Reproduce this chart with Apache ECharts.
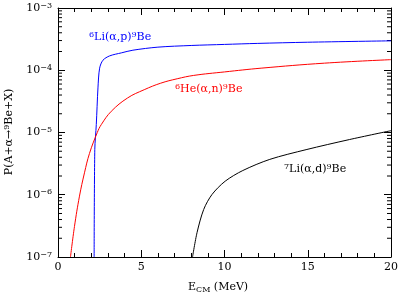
<!DOCTYPE html>
<html><head><meta charset="utf-8">
<script src="https://cdn.jsdelivr.net/npm/echarts@6/dist/echarts.min.js"></script>
<style>html,body{margin:0;padding:0;background:#fff}#c{width:401px;height:300px}</style>
</head><body><div id="c"></div>
<script>
// Data
var liP_E   = [2.17, 2.21, 2.3, 2.4, 2.5, 2.7, 3.1, 3.8, 4.5, 6, 8, 10, 12, 15, 20];
var liP_P   = [1e-7, 5.3e-6, 1.34e-5, 5.2e-5, 1.08e-4, 1.45e-4, 1.7e-4, 1.9e-4, 2.1e-4, 2.35e-4, 2.5e-4, 2.6e-4, 2.7e-4, 2.82e-4, 2.97e-4];
var heN_E   = [0.75, 0.99, 1.29, 1.59, 1.89, 2.36, 2.6, 3.2, 4.18, 5.18, 6.17, 7.16, 8.15, 10, 12.2, 16, 20];
var heN_P   = [1e-7, 3.1e-7, 9.5e-7, 2.25e-6, 4.6e-6, 1e-5, 1.34e-5, 2.19e-5, 3.59e-5, 4.87e-5, 6.2e-5, 7.3e-5, 8.26e-5, 9.4e-5, 1.08e-4, 1.3e-4, 1.48e-4];
var liD_E   = [8.08, 8.35, 8.75, 9.25, 10.04, 11.1, 12.72, 14.9, 17.5, 20];
var liD_P   = [1e-7, 2.46e-7, 5.8e-7, 1.01e-6, 1.65e-6, 2.45e-6, 3.7e-6, 5.3e-6, 7.7e-6, 1.07e-5];
var seriesNames = ['{s|6}Li(α,p){s|9}Be', '{s|6}He(α,n){s|9}Be', '{s|7}Li(α,d){s|9}Be'];
var xTicks = [0, 5, 10, 15, 20];
var yDecades = [-7, -6, -5, -4, -3];
var minorMult = [2, 3, 4, 5, 6, 7, 8, 9];

function zip(a, b) { return a.map(function (v, i) { return [v, b[i]]; }); }
var minorVals = [];
yDecades.slice(0, -1).forEach(function (d) {
  minorMult.forEach(function (m) { minorVals.push([0, m * Math.pow(10, d)]); });
});

var FONT = 'DejaVu Serif';
var rich = {
  s: { fontSize: 8, fontFamily: FONT, verticalAlign: 'top', padding: [0, 0, 5, 0] },
  b: { fontSize: 11, fontFamily: FONT }
};

var chart = echarts.init(document.getElementById('c'));
var axisCommon = {
  axisLine: { onZero: false, lineStyle: { color: '#000', width: 1 } },
  splitLine: { show: false }
};
chart.setOption({
  animation: false,
  grid: { left: 58, right: 7, top: 8, bottom: 43 },
  xAxis: [
    Object.assign({}, axisCommon, {
      type: 'value', min: 0, max: 20, interval: 5, position: 'bottom',
      axisTick: { inside: true, length: 7, lineStyle: { color: '#000' } },
      minorTick: { show: true, splitNumber: 5, length: 4, lineStyle: { color: '#000' } },
      axisLabel: { color: '#000', fontFamily: FONT, fontSize: 11, margin: 5 }
    }),
    Object.assign({}, axisCommon, {
      type: 'value', min: 0, max: 20, interval: 5, position: 'top',
      axisTick: { inside: true, length: 7, lineStyle: { color: '#000' } },
      minorTick: { show: true, splitNumber: 5, length: 4, lineStyle: { color: '#000' } },
      axisLabel: { show: false }
    })
  ],
  yAxis: [
    Object.assign({}, axisCommon, {
      type: 'log', logBase: 10, min: 1e-7, max: 1e-3, interval: 1, position: 'left',
      axisTick: { inside: true, length: 7, lineStyle: { color: '#000' } },
      axisLabel: {
        color: '#000', fontFamily: FONT, fontSize: 11, margin: 6,
        formatter: function (v) {
          var e = Math.round(Math.log10(v));
          return '{b|10}{s|' + (e < 0 ? '\u2212' + (-e) : e) + '}';
        },
        rich: rich
      }
    }),
    Object.assign({}, axisCommon, {
      type: 'log', logBase: 10, min: 1e-7, max: 1e-3, interval: 1, position: 'right',
      axisTick: { inside: true, length: 7, lineStyle: { color: '#000' } },
      axisLabel: { show: false }
    })
  ],
  series: [
    { type: 'line', name: 'liP', data: zip(liP_E, liP_P), showSymbol: false, smooth: 0.3,
      lineStyle: { color: '#0000ff', width: 1 }, itemStyle: { color: '#0000ff' } },
    { type: 'line', name: 'heN', data: zip(heN_E, heN_P), showSymbol: false, smooth: 0.4,
      lineStyle: { color: '#ff0000', width: 1 }, itemStyle: { color: '#ff0000' } },
    { type: 'line', name: 'liD', data: zip(liD_E, liD_P), showSymbol: false, smooth: 0.3,
      lineStyle: { color: '#000000', width: 1 }, itemStyle: { color: '#000' } },
    { type: 'custom', silent: true, clip: false, data: minorVals, encode: { x: 0, y: 1 },
      renderItem: function (params, api) {
        var v = api.value(1);
        var pl = api.coord([0, v]), pr = api.coord([20, v]);
        return { type: 'group', children: [
          { type: 'line', shape: { x1: pl[0], y1: pl[1], x2: pl[0] + 4, y2: pl[1] }, style: { stroke: '#000', lineWidth: 1 } },
          { type: 'line', shape: { x1: pr[0] - 4, y1: pr[1], x2: pr[0], y2: pr[1] }, style: { stroke: '#000', lineWidth: 1 } }
        ] };
      }
    }
  ],
  graphic: [
    { type: 'text', left: 89, top: 31, style: { text: seriesNames[0], fill: '#0000ff', rich: { s: Object.assign({}, rich.s, { fill: '#0000ff' }), b: rich.b }, font: '11px ' + FONT } },
    { type: 'text', left: 175, top: 83, style: { text: seriesNames[1], fill: '#ff0000', rich: { s: Object.assign({}, rich.s, { fill: '#ff0000' }), b: rich.b }, font: '11px ' + FONT } },
    { type: 'text', left: 284, top: 163, style: { text: seriesNames[2], fill: '#000', rich: rich, font: '11px ' + FONT } },
    { type: 'text', left: 188, top: 282, style: { text: 'E{sub|CM} (MeV)', fill: '#000', font: '11px ' + FONT,
      rich: { sub: { fontSize: 8, fontFamily: FONT, verticalAlign: 'bottom', padding: [4, 0, 0, 0] } } } },
    { type: 'text', x: 9, y: 132, rotation: Math.PI / 2,
      style: { text: 'P(A+α→{s|9}Be+X)', fill: '#000', font: '11px ' + FONT, align: 'center', verticalAlign: 'middle', rich: rich } }
  ]
});
</script></body></html>
